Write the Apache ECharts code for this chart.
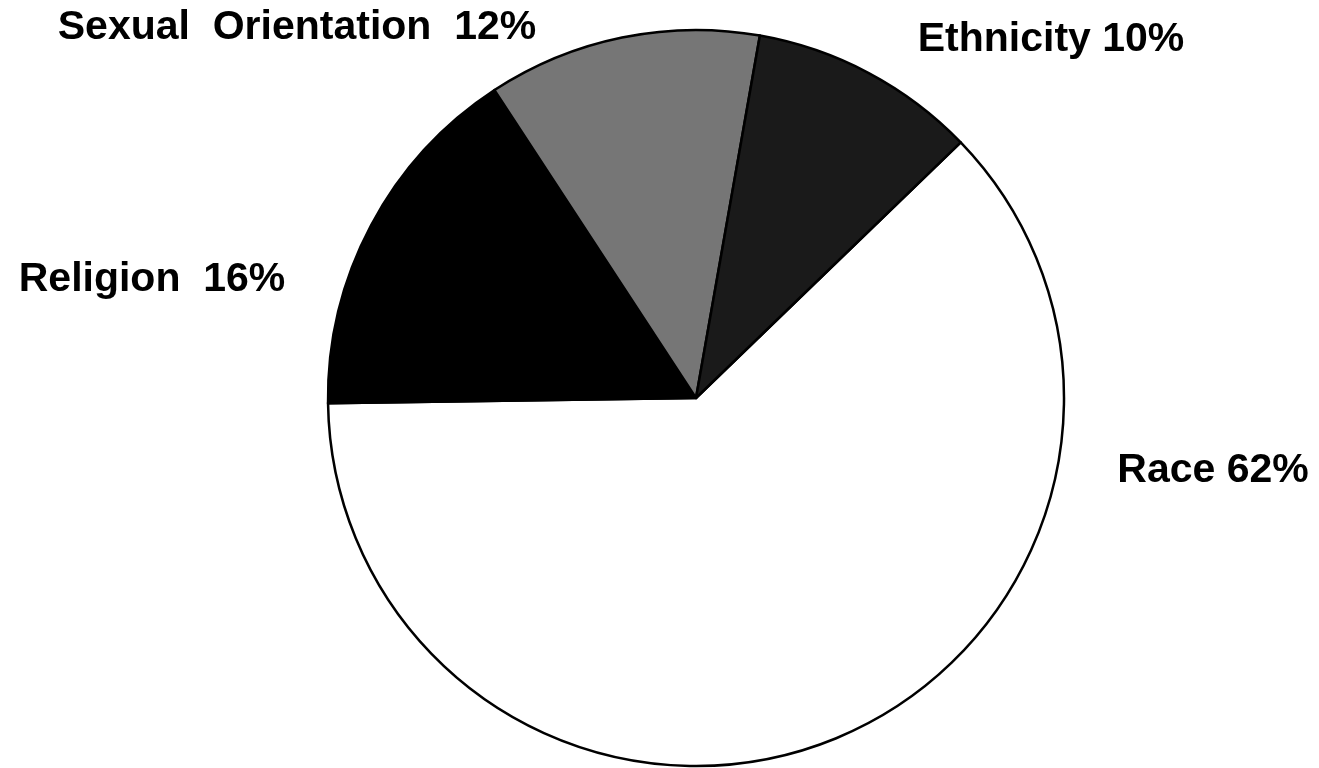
<!DOCTYPE html>
<html>
<head>
<meta charset="utf-8">
<script src="https://cdn.jsdelivr.net/npm/echarts@6/dist/echarts.min.js"></script>
<style>
html,body{margin:0;padding:0;background:#fff;}
#chart{width:1319px;height:768px;}
</style>
</head>
<body>
<div id="chart"></div>
<script>
// Data (clockwise order starting from upper-right)
const categories = ['Race', 'Religion', 'Sexual Orientation', 'Ethnicity'];
const values = [62, 16, 12, 10];
const labelTexts = ['Race 62%', 'Religion  16%', 'Sexual  Orientation  12%', 'Ethnicity 10%'];

const colors = ['#ffffff', '#000000', '#767676', '#1a1a1a'];
const labelPos = [[1213, 471], [152, 280], [297, 28], [1051, 40]];

const chart = echarts.init(document.getElementById('chart'));
chart.setOption({
  backgroundColor: '#ffffff',
  animation: false,
  series: [{
    type: 'pie',
    center: [696, 398],
    radius: 368,
    startAngle: 44,
    clockwise: true,
    data: categories.map((c, i) => ({
      name: c,
      value: values[i],
      itemStyle: { color: colors[i] }
    })),
    itemStyle: { borderColor: '#000', borderWidth: 2.5 },
    emphasis: { disabled: true },
    label: {
      show: true,
      formatter: p => labelTexts[p.dataIndex],
      fontFamily: 'Liberation Sans, Arial, sans-serif',
      fontWeight: 'bold',
      fontSize: 41,
      color: '#000'
    },
    labelLine: { show: false },
    labelLayout: p => ({
      x: labelPos[p.dataIndex][0],
      y: labelPos[p.dataIndex][1],
      align: 'center',
      verticalAlign: 'middle'
    })
  }]
});
</script>
</body>
</html>
